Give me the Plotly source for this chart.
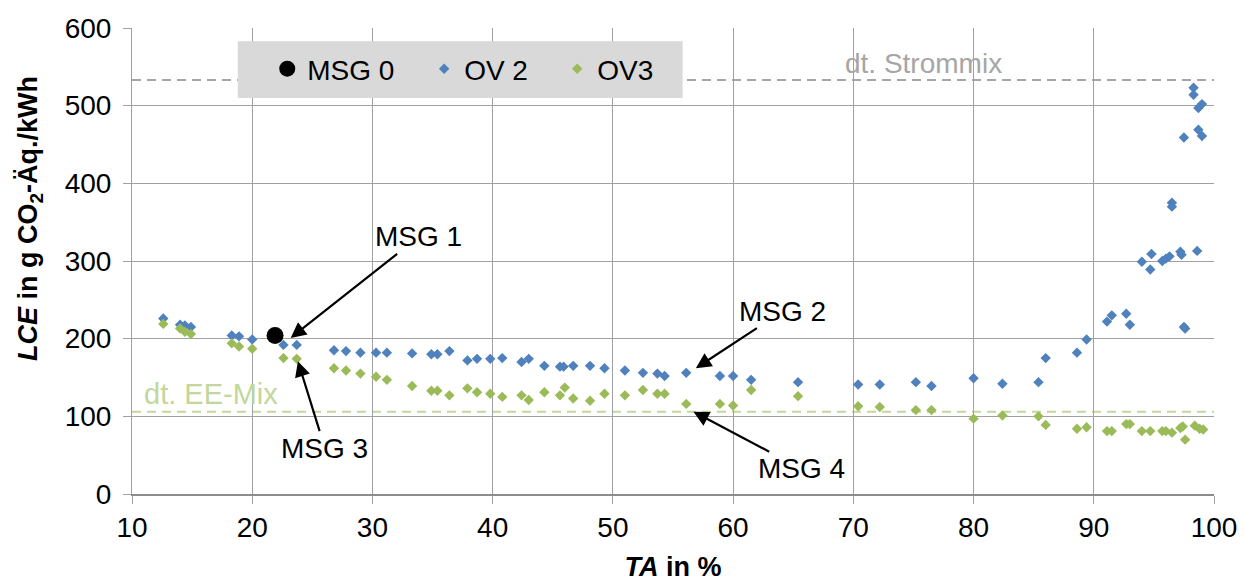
import plotly.graph_objects as go

# Measured life-cycle emissions (LCE) against technical availability (TA)
ta_msg0 = [21.9]
lce_msg0 = [204]

ta_ov2 = [12.6, 14.0, 14.4, 14.9, 18.3, 18.9, 20.0, 22.6, 23.7, 26.8, 27.8, 29.0,
          30.3, 31.2, 33.3, 34.9, 35.4, 36.4, 37.9, 38.7, 39.8, 40.8, 42.4, 43.0,
          44.3, 45.6, 45.9, 46.7, 48.1, 49.3, 51.0, 52.5, 53.7, 54.3, 56.1, 58.9,
          60.0, 61.5, 65.4, 70.4, 72.2, 75.2, 76.5, 80.0, 82.4, 85.4, 86.0, 88.6,
          89.4, 91.1, 91.5, 92.7, 93.0, 94.0, 94.7, 94.8, 95.7, 96.0, 96.3, 96.5,
          96.5, 97.2, 97.3, 97.5, 97.5, 97.6, 98.3, 98.3, 98.6, 98.7, 98.7, 99.0,
          99.0]
lce_ov2 = [226, 218, 217, 215, 204, 203, 199, 192, 192, 185, 184, 182,
           182, 182, 181, 180, 180, 184, 172, 174, 174, 175, 170, 174,
           165, 164, 164, 165, 165, 162, 159, 156, 155, 152, 156, 152,
           152, 147, 144, 141, 141, 144, 139, 149, 142, 144, 175, 182,
           199, 222, 230, 232, 218, 299, 289, 309, 300, 303, 306, 375,
           370, 312, 308, 459, 215, 213, 523, 514, 313, 497, 469, 502,
           461]

ta_ov3 = [12.6, 14.0, 14.4, 14.9, 18.3, 18.9, 20.0, 22.6, 23.7, 26.8, 27.8, 29.0,
          30.3, 31.2, 33.3, 34.9, 35.4, 36.4, 37.9, 38.7, 39.8, 40.8, 42.4, 43.0,
          44.3, 45.6, 46.0, 46.7, 48.1, 49.3, 51.0, 52.5, 53.7, 54.3, 56.1, 58.9,
          60.0, 61.5, 65.4, 70.4, 72.2, 75.2, 76.5, 80.0, 82.4, 85.4, 86.0, 88.6,
          89.4, 91.1, 91.5, 92.7, 93.0, 94.0, 94.7, 95.7, 96.0, 96.5, 97.2, 97.4,
          97.6, 98.4, 98.8, 99.1]
lce_ov3 = [219, 213, 209, 206, 194, 190, 187, 175, 174, 162, 159, 155,
           151, 147, 139, 133, 133, 127, 136, 131, 129, 125, 127, 121,
           131, 127, 137, 123, 120, 129, 127, 134, 129, 129, 116, 116,
           114, 134, 126, 113, 112, 108, 108, 97, 101, 100, 89, 84,
           86, 81, 81, 90, 90, 81, 81, 81, 81, 79, 85, 87,
           70, 88, 84, 83]

# Reference grid mixes
strommix = 533
ee_mix = 106

# Labelled configurations: (label, TA, LCE)
msg_labels = ["MSG 1", "MSG 2", "MSG 3", "MSG 4"]
msg_ta = [23.2, 56.9, 23.8, 56.7]
msg_lce = [201, 162, 171, 106]

x_ticks = [10, 20, 30, 40, 50, 60, 70, 80, 90, 100]
y_ticks = [0, 100, 200, 300, 400, 500, 600]

BLUE = "#4F81BD"
GREEN = "#9BBB59"
EE_GREEN = "#C3D69B"
REF_GREY = "#A6A6A6"
GRID = "#A0A0A0"
FONT = "Arial, Liberation Sans, sans-serif"

fig = go.Figure()

fig.add_trace(go.Scatter(
    x=ta_ov2, y=lce_ov2, mode="markers", name="OV 2", legend="legend2",
    marker=dict(symbol="diamond", size=8, color=BLUE)))
fig.add_trace(go.Scatter(
    x=ta_ov3, y=lce_ov3, mode="markers", name="OV3", legend="legend3",
    marker=dict(symbol="diamond", size=8, color=GREEN)))
# black reference point drawn last so it sits on top of the series
fig.add_trace(go.Scatter(
    x=ta_msg0, y=lce_msg0, mode="markers", name="MSG 0", legend="legend",
    showlegend=True,
    marker=dict(symbol="circle", size=17, color="black")))

# Reference lines
fig.add_shape(type="line", xref="paper", x0=0, x1=1, yref="y", y0=strommix, y1=strommix,
              line=dict(color=REF_GREY, width=2, dash="9px,6px"), layer="below")
fig.add_shape(type="line", xref="paper", x0=0, x1=1, yref="y", y0=ee_mix, y1=ee_mix,
              line=dict(color=EE_GREEN, width=2, dash="9px,6px"), layer="below")

# Legend background panel
fig.add_shape(type="rect", xref="x", yref="y", x0=18.8, x1=55.8, y0=510, y1=583,
              fillcolor="#D9D9D9", line=dict(width=0), layer="above")

fig.add_annotation(x=100, xref="x", y=strommix, yref="y", text="dt. Strommix",
                   showarrow=False, xanchor="right", yanchor="bottom", xshift=-210, yshift=-1,
                   font=dict(family=FONT, size=28, color=REF_GREY))
fig.add_annotation(x=10, xref="x", y=ee_mix, yref="y", text="dt. EE-Mix",
                   showarrow=False, xanchor="left", yanchor="bottom", xshift=10, yshift=0,
                   font=dict(family=FONT, size=29, color=EE_GREEN))

# Y-axis title, placed above the plot centre as in the worksheet chart
fig.add_annotation(xref="paper", x=0, xshift=-102, yref="paper", y=0.59,
                   text="<b><i>LCE</i> in g CO<sub>2</sub>-Äq./kWh</b>", textangle=-90,
                   showarrow=False, xanchor="center", yanchor="middle",
                   font=dict(family=FONT, size=27, color="black"))

# Arrow callouts
offsets = [(128, -101), (87, -57), (27, 87), (108, 57)]
for lab, tx, ty, (ax, ay) in zip(msg_labels, msg_ta, msg_lce, offsets):
    fig.add_annotation(x=tx, y=ty, text=lab, showarrow=True, ax=ax, ay=ay,
                       arrowhead=2, arrowsize=1.4, arrowwidth=2.2, arrowcolor="black",
                       font=dict(family=FONT, size=28, color="black"))

legend_common = dict(orientation="h", bgcolor="rgba(0,0,0,0)", borderwidth=0,
                     font=dict(family=FONT, size=28, color="black"),
                     yanchor="middle", xanchor="left", itemsizing="trace",
                     visible=True)

fig.update_layout(
    width=1244, height=582,
    margin=dict(l=132, r=30, t=28, b=88),
    paper_bgcolor="white", plot_bgcolor="white",
    showlegend=True,
    font=dict(family=FONT, size=28, color="black"),
    legend=dict(x=0.125, y=0.912, **legend_common),
    legend2=dict(x=0.27, y=0.912, **legend_common),
    legend3=dict(x=0.393, y=0.912, **legend_common),
    xaxis=dict(range=[10, 100], tickvals=x_ticks, showgrid=True, gridcolor=GRID,
               gridwidth=1, showline=True, linecolor="#8C8C8C", linewidth=1.5,
               ticks="outside", ticklen=8, tickcolor=GRID, zeroline=False,
               automargin=False,
               tickfont=dict(family=FONT, size=28),
               title=dict(text="<b><i>TA</i> in %</b>", font=dict(family=FONT, size=27),
                          standoff=20)),
    yaxis=dict(range=[0, 600], tickvals=y_ticks, showgrid=True, gridcolor=GRID,
               gridwidth=1, showline=True, linecolor=GRID, linewidth=1,
               ticks="outside", ticklen=8, tickcolor=GRID, zeroline=False,
               automargin=False, ticklabelstandoff=6,
               tickfont=dict(family=FONT, size=28)),
)

fig.write_html("out.html")
